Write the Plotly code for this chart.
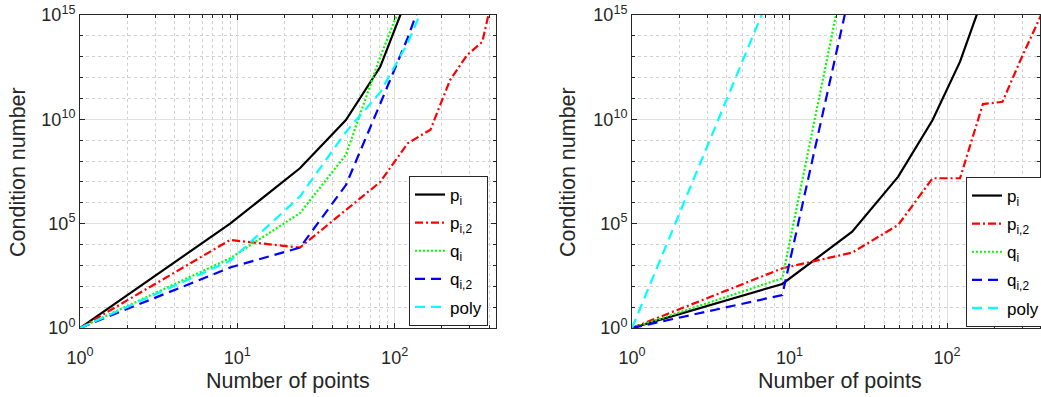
import plotly.graph_objects as go

# ---------------- data ----------------
n_points = [1, 9, 25, 49, 81, 121, 169, 225, 289, 361, 441]

# left panel
left_p_i   = [1, 1.0e5, 4.5e7, 9.3e9, 3.3e12, 7.9e15]
left_p_i2  = [1, 1.66e4, 7.1e3, 4.5e5, 1.0e7, 7.1e8, 3.2e9, 7.6e11, 1.2e13, 5.2e13, 4.0e16]
left_q_i   = [1, 2.2e3, 3.2e5, 2.0e8, 1.0e13, 2.0e16]
left_q_i2  = [1, 7.9e2, 7.1e3, 7.1e6, 5.6e10, 7.9e13, 7.9e16]
left_poly  = [1, 1.66e3, 2.0e6, 2.5e9, 2.0e11, 4.5e13, 1.6e16]

# right panel
right_p_i  = [1, 129, 4.1e4, 1.8e7, 9.3e9, 5.8e12, 6.9e15]
right_p_i2 = [1, 724, 4.1e3, 8.7e4, 1.5e7, 1.5e7, 5.4e10, 6.9e10, 5.5e12, 2.5e14, 6.0e15]
right_q_i  = [1, 240, 6.3e18]
right_q_i2 = [1, 38, 4.0e16]
right_poly = [1, 2.5e17]

series_names = ["p<sub>i</sub>", "p<sub>i,2</sub>", "q<sub>i</sub>", "q<sub>i,2</sub>", "poly"]

x_tick_vals = [1, 10, 100]
x_tick_text = ["10<sup>0</sup>", "10<sup>1</sup>", "10<sup>2</sup>"]
y_tick_vals = [1, 1e5, 1e10, 1e15]
y_tick_text = ["10<sup>0</sup>", "10<sup>5</sup>", "10<sup>10</sup>", "10<sup>15</sup>"]

# ---------------- styles ----------------
styles = [
    dict(color="#000000", dash="solid"),
    dict(color="#ff0000", dash="8px,3px,2px,3px"),
    dict(color="#00ff00", dash="2px,2px"),
    dict(color="#0000ff", dash="10px,6px"),
    dict(color="#00ffff", dash="10px,6px"),
]
TXT = "#262626"
FONT = "Liberation Sans, Arial, Helvetica, sans-serif"

fig = go.Figure()

left_sets = [left_p_i, left_p_i2, left_q_i, left_q_i2, left_poly]
right_sets = [right_p_i, right_p_i2, right_q_i, right_q_i2, right_poly]

for i, (name, ys) in enumerate(zip(series_names, left_sets)):
    fig.add_trace(go.Scatter(
        x=n_points[:len(ys)], y=ys, mode="lines", name=name,
        line=dict(color=styles[i]["color"], dash=styles[i]["dash"], width=2.2),
        xaxis="x", yaxis="y", legend="legend", legendgroup=f"L{i}",
    ))
for i, (name, ys) in enumerate(zip(series_names, right_sets)):
    fig.add_trace(go.Scatter(
        x=n_points[:len(ys)], y=ys, mode="lines", name=name,
        line=dict(color=styles[i]["color"], dash=styles[i]["dash"], width=2.2),
        xaxis="x2", yaxis="y2", legend="legend2", legendgroup=f"R{i}",
    ))

x_minor = [2, 3, 4, 5, 6, 7, 8, 9, 20, 30, 40, 50, 60, 70, 80, 90, 200, 300, 400]
y_minor = [10.0 ** k for k in range(1, 15) if k not in (5, 10)]

def xaxis_cfg(domain, rng, anchor):
    return dict(
        type="log", range=rng, domain=domain, anchor=anchor,
        tickvals=x_tick_vals, ticktext=x_tick_text,
        ticks="inside", ticklen=5, tickcolor=TXT, tickwidth=1,
        showline=True, linecolor=TXT, linewidth=1, mirror="allticks",
        showgrid=True, gridcolor="#e0e0e0", gridwidth=1,
        zeroline=False, ticklabelstandoff=13,
        tickfont=dict(size=18, color=TXT, family=FONT),
        minor=dict(tickvals=x_minor, ticks="inside", ticklen=3, tickcolor=TXT,
                   showgrid=True, gridcolor="#d0d0d0", griddash="dot", gridwidth=1),
    )

def yaxis_cfg(anchor):
    return dict(
        type="log", range=[0, 15], domain=[0, 1], anchor=anchor,
        tickvals=y_tick_vals, ticktext=y_tick_text,
        ticks="inside", ticklen=5, tickcolor=TXT, tickwidth=1,
        showline=True, linecolor=TXT, linewidth=1, mirror="allticks",
        showgrid=True, gridcolor="#e0e0e0", gridwidth=1,
        zeroline=False,
        tickfont=dict(size=18, color=TXT, family=FONT),
        minor=dict(tickvals=y_minor, ticks="inside", ticklen=3, tickcolor=TXT,
                   showgrid=True, gridcolor="#d0d0d0", griddash="dot", gridwidth=1),
    )

W, H = 1041, 397
ML, MR, MT, MB = 80, 1, 15, 69
PW = W - ML - MR
PH = H - MT - MB

def px_x(p):
    return (p - ML) / PW

def px_y(p):
    return (H - MB - p) / PH

legend_common = dict(
    bgcolor="white", bordercolor=TXT, borderwidth=1,
    font=dict(size=17, color="#000000", family=FONT),
    xanchor="left", yanchor="top", tracegroupgap=3,
    itemwidth=30,
)

fig.update_layout(
    width=W, height=H,
    margin=dict(l=ML, r=MR, t=MT, b=MB, autoexpand=False),
    paper_bgcolor="white", plot_bgcolor="white",
    font=dict(family=FONT, color=TXT),
    xaxis=xaxis_cfg([0, px_x(496)], [0, 2.6444], "y"),
    yaxis=yaxis_cfg("x"),
    xaxis2=xaxis_cfg([px_x(632), 1], [0, (1040 - 632) / 157.5], "y2"),
    yaxis2=yaxis_cfg("x2"),
    legend=dict(x=px_x(409), y=px_y(176), **legend_common),
    legend2=dict(x=px_x(966), y=px_y(177), **legend_common),
    showlegend=True,
)

title_font = dict(size=21.5, color=TXT, family=FONT)
annos = [
    dict(text="Number of points", x=px_x(288), y=px_y(381), xref="paper", yref="paper",
         showarrow=False, xanchor="center", yanchor="middle", font=title_font),
    dict(text="Number of points", x=px_x(840), y=px_y(381), xref="paper", yref="paper",
         showarrow=False, xanchor="center", yanchor="middle", font=title_font),
    dict(text="Condition number", x=px_x(18), y=px_y(172), xref="paper", yref="paper",
         showarrow=False, xanchor="center", yanchor="middle", textangle=-90, font=title_font),
    dict(text="Condition number", x=px_x(568), y=px_y(172), xref="paper", yref="paper",
         showarrow=False, xanchor="center", yanchor="middle", textangle=-90, font=title_font),
]
fig.update_layout(annotations=annos)

fig.write_html(
    "out.html",
    config={"displayModeBar": False},
    post_script="document.body.style.margin='0px';document.body.style.overflow='hidden';",
)
